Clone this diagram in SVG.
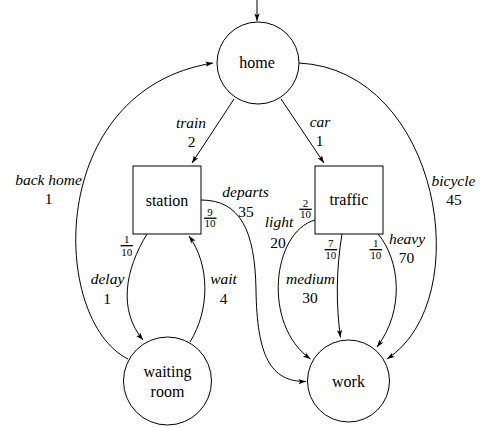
<svg xmlns="http://www.w3.org/2000/svg" width="484" height="427" viewBox="0 0 484 427">
<style>
text{font-family:'Liberation Serif','Times New Roman','DejaVu Serif',serif;fill:#000;text-anchor:middle}
.node{fill:#fff;stroke:#000;stroke-width:1}
.nt{font-size:16px}
.el{fill:none;stroke:#000;stroke-width:1;marker-end:url(#arr)}
.lb{font-size:15.5px;font-style:italic}
.nm{font-size:15.5px}
.fr{font-size:11px}
.bar{stroke:#000;stroke-width:1.3}
</style>
<defs>
<marker id="arr" markerUnits="userSpaceOnUse" markerWidth="10" markerHeight="8" viewBox="-8 -4 9 8" refX="0" refY="0" orient="auto">
<path d="M0,0 L-7.5,-2.6 L-5.8,0 L-7.5,2.6 Z" fill="#000"/>
</marker>
</defs>
<rect width="484" height="427" fill="#fff"/>
<g id="edges">
<path class="el" d="M257,0 L257,21"/>
<path class="el" d="M234,99 L192,163"/>
<path class="el" d="M281,99 L324,163"/>
<path class="el" d="M299,63 C440,70 478,300 387,359"/>
<path class="el" d="M128,359 C50,320 45,90 213,63"/>
<path class="el" d="M147,234 C125,270 118,310 143,340"/>
<path class="el" d="M190,342 C210,310 210,265 189,236"/>
<path class="el" d="M201,200 C240,200 255,230 256,290 C257,355 270,382 306,381.5"/>
<path class="el" d="M315,220 C272,232 262,325 310.5,359"/>
<path class="el" d="M342,234 C336,270 336,305 340.5,337.5"/>
<path class="el" d="M378,234 C400,260 405,310 377,347"/>
</g>
<g id="home">
<circle class="node" cx="258" cy="63" r="41"/>
<text class="nt" x="257" y="68" font-family="Liberation Serif, serif">home</text>
</g>
<g id="station">
<rect class="node" x="133" y="166" width="68" height="68"/>
<text class="nt" x="167" y="206">station</text>
</g>
<g id="traffic">
<rect class="node" x="315" y="166" width="68" height="68"/>
<text class="nt" x="349" y="205">traffic</text>
</g>
<g id="waiting-room">
<circle class="node" cx="167.5" cy="381" r="44"/>
<text class="nt" x="167.5" y="377">waiting</text>
<text class="nt" x="167.5" y="397">room</text>
</g>
<g id="work">
<circle class="node" cx="348.5" cy="381" r="41"/>
<text class="nt" x="348.5" y="386.5">work</text>
</g>
<g id="labels">
<text class="lb" x="191" y="128">train</text>
<text class="nm" x="191.5" y="147">2</text>
<text class="lb" x="320" y="126.5">car</text>
<text class="nm" x="319.5" y="145.5">1</text>
<text class="lb" x="48.5" y="185">back home</text>
<text class="nm" x="48.5" y="204">1</text>
<text class="lb" x="453.5" y="186">bicycle</text>
<text class="nm" x="454" y="204.5">45</text>
<text class="lb" x="245.5" y="197">departs</text>
<text class="nm" x="246" y="216.5">35</text>
<text class="lb" x="279" y="227">light</text>
<text class="nm" x="278" y="248">20</text>
<text class="lb" x="107.5" y="283.5">delay</text>
<text class="nm" x="107" y="304">1</text>
<text class="lb" x="223.5" y="283.5">wait</text>
<text class="nm" x="223.5" y="303.5">4</text>
<text class="lb" x="310.5" y="284">medium</text>
<text class="nm" x="310" y="303">30</text>
<text class="lb" x="407" y="244">heavy</text>
<text class="nm" x="406.5" y="263">70</text>
<text class="fr" x="126.7" y="242.7">1</text>
<line class="bar" x1="120.5" y1="245.7" x2="133" y2="245.7"/>
<text class="fr" x="126.7" y="255.5">10</text>
<text class="fr" x="210" y="215.5">9</text>
<line class="bar" x1="204" y1="218.2" x2="216.5" y2="218.2"/>
<text class="fr" x="210" y="227">10</text>
<text class="fr" x="305.5" y="206.5">2</text>
<line class="bar" x1="299.3" y1="209.3" x2="311.8" y2="209.3"/>
<text class="fr" x="305.5" y="218">10</text>
<text class="fr" x="330.8" y="246.8">7</text>
<line class="bar" x1="324.6" y1="249.7" x2="337.1" y2="249.7"/>
<text class="fr" x="330.8" y="258.5">10</text>
<text class="fr" x="375.8" y="246.8">1</text>
<line class="bar" x1="369.6" y1="249.7" x2="382.1" y2="249.7"/>
<text class="fr" x="375.8" y="258.5">10</text>
</g>
</svg>
